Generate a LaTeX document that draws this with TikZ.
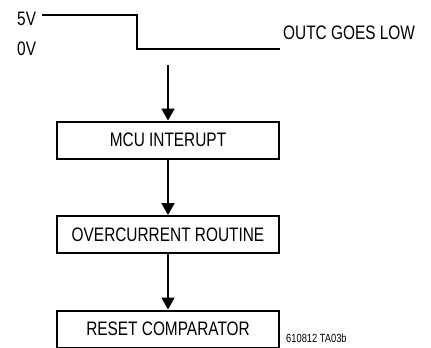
\documentclass[tikz,border=0pt]{standalone}
\usepackage{fontspec}
\setmainfont{Liberation Sans}[FakeStretch=0.79]
\usetikzlibrary{arrows.meta}
\begin{document}
\begin{tikzpicture}[x=1pt,y=-1pt,
  stepbox/.style={draw,line width=2pt,minimum width=222pt,minimum height=37pt,inner sep=0pt,font=\fontsize{19.5pt}{22pt}\selectfont},
  lbl/.style={inner sep=0pt,font=\fontsize{19.5pt}{22pt}\selectfont},
  flow/.style={line width=2pt,-{Triangle[width=13pt,length=12pt]}},
  wave/.style={line width=2pt}]
\useasboundingbox (0,0) rectangle (431,348);
% waveform
\coordinate (w0) at (42,15);
\coordinate (w1) at (137,15);
\coordinate (w2) at (137,49);
\coordinate (w3) at (280,49);
\draw[wave] (w0) -- (w1) -- (w2) -- (w3);
\node[lbl,anchor=west] (v5) at (17,19) {5V};
\node[lbl,anchor=west] (v0) at (17,49) {0V};
\node[lbl,anchor=west] (outc) at (283,33) {OUTC GOES LOW};
% flow
\coordinate (start) at (168,65);
\node[stepbox] (b1) at (168,140) {MCU INTERUPT};
\node[stepbox] (b2) at (168,234.5) {OVERCURRENT ROUTINE};
\node[stepbox] (b3) at (168,329) {RESET COMPARATOR};
\draw[flow] (start) -- (b1.north);
\draw[flow] (b1.south) -- (b2.north);
\draw[flow] (b2.south) -- (b3.north);
\node[inner sep=0pt,anchor=west,font=\fontsize{11.8pt}{13pt}\selectfont] (id) at (286,338) {610812 TA03b};
\end{tikzpicture}
\end{document}
